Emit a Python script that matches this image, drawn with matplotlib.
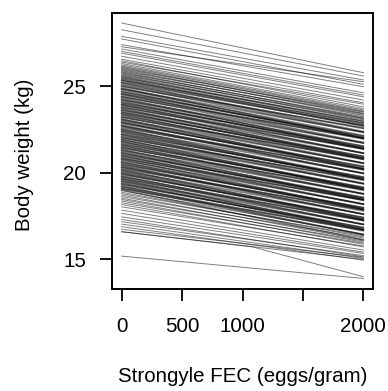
import matplotlib
matplotlib.use("Agg")
import matplotlib.pyplot as plt

plt.rcParams['font.family'] = ['Liberation Sans', 'DejaVu Sans']

# x positions (FEC, eggs/gram) where each fitted line is evaluated
fec_ends = [0, 2000]

# body weight (kg) of each line at FEC = 0 and at FEC = 2000
bw_at_0 = [
    28.64, 28.25, 27.87, 27.72, 27.39, 27.27, 27.14, 27.00, 26.90, 26.72,
    26.55, 26.46, 26.38, 26.30, 26.22,
    26.15, 26.08, 26.01, 25.95, 25.88, 25.82, 25.76, 25.70, 25.64, 25.58,
    25.53, 25.48, 25.43, 25.38, 25.33,
    25.30, 25.21, 25.18, 25.09, 25.02, 24.97, 24.88, 24.84, 24.80, 24.71,
    24.66, 24.58, 24.55, 24.49, 24.40, 24.37, 24.30, 24.22, 24.19, 24.11,
    24.05, 23.99, 23.93, 23.90, 23.82, 23.76, 23.71, 23.63, 23.60, 23.52,
    23.47, 23.41, 23.36, 23.30, 23.22, 23.19, 23.10, 23.06, 23.00, 22.93,
    22.88, 22.84, 22.75, 22.70, 22.66, 22.58, 22.51, 22.47, 22.40, 22.36,
    22.28, 22.21, 22.18, 22.10, 22.04, 21.99, 21.92, 21.88, 21.80, 21.77,
    21.69, 21.63, 21.58, 21.52, 21.45, 21.41, 21.33, 21.29, 21.22, 21.15,
    21.11, 21.04, 20.98, 20.94, 20.86, 20.81, 20.77, 20.70, 20.62, 20.59,
    20.51, 20.46, 20.40, 20.33, 20.30, 20.22, 20.17, 20.11, 20.05, 19.99,
    19.93, 19.89, 19.81, 19.76, 19.70, 19.63, 19.60, 19.52, 19.48, 19.41,
    19.35, 19.30, 19.22, 19.18, 19.11, 19.06, 19.00,
    18.95, 18.86, 18.78, 18.70, 18.61, 18.52, 18.44, 18.35, 18.25, 18.15,
    18.02, 17.83, 17.64, 17.44, 17.29, 17.16, 17.02, 16.87, 16.72, 16.58,
    15.17,
]
bw_at_2000 = [
    25.77, 25.58, 25.35, 25.10, 24.96, 25.25, 24.61, 24.48, 24.38, 24.19,
    24.03, 23.80, 23.95, 23.70, 23.62,
    23.55, 23.42, 23.50, 23.30, 23.38, 23.15, 23.22, 23.05, 23.12, 22.95,
    22.88, 22.98, 22.80, 22.72, 22.85,
    22.68, 22.73, 22.37, 22.54, 22.32, 22.59, 22.00, 22.33, 22.14, 21.97,
    22.04, 22.10, 21.74, 21.94, 21.70, 21.99, 21.42, 21.71, 21.53, 21.37,
    21.43, 21.51, 21.12, 21.35, 21.12, 21.38, 20.83, 21.12, 20.94, 20.78,
    20.85, 20.93, 20.55, 20.75, 20.52, 20.81, 20.22, 20.55, 20.34, 20.19,
    20.26, 20.36, 19.94, 20.15, 19.96, 20.20, 19.63, 19.96, 19.74, 19.62,
    19.66, 19.73, 19.37, 19.55, 19.34, 19.61, 19.04, 19.37, 19.14, 19.03,
    19.07, 19.15, 18.77, 18.97, 18.75, 19.03, 18.45, 18.78, 18.56, 18.41,
    18.49, 18.56, 18.17, 18.39, 18.16, 18.43, 17.89, 18.19, 17.96, 17.85,
    17.89, 17.98, 17.59, 17.78, 17.60, 17.84, 17.29, 17.60, 17.39, 17.25,
    17.31, 17.41, 17.00, 17.21, 17.00, 17.25, 16.72, 17.01, 16.82, 16.67,
    16.73, 16.82, 16.41, 16.63, 16.41, 16.68, 16.12,
    16.45, 16.28, 16.35, 16.10, 16.22, 15.98, 16.05, 15.85, 15.92, 15.70,
    15.75, 15.52, 15.40, 15.33, 15.13, 15.20, 15.04, 14.94, 15.10, 14.98,
    13.88,
]

# one line that bends part way along
bent_fec = [0, 1080, 2000]
bent_bw = [16.58, 15.71, 13.98]

x_ticks = [0, 500, 1000, 1500, 2000]
x_tick_labels = ['0', '500', '1000', '', '2000']
y_ticks = [15, 20, 25]

fig = plt.figure(figsize=(3.88, 3.91), dpi=100)
ax = fig.add_axes([112 / 388, 1 - 289 / 391, 261 / 388, 276 / 391])

for i, (a, b) in enumerate(zip(bw_at_0, bw_at_2000)):
    if 30 <= i < 137:      # the dense middle band
        alpha, lw = 0.5, 1.15
    elif 15 <= i < 30:     # thinning out towards the top
        alpha, lw = 0.5, 0.9
    else:
        alpha, lw = 0.5, 0.7
    ax.plot(fec_ends, [a, b], color='black', alpha=alpha, lw=lw)
ax.plot(bent_fec, bent_bw, color='black', alpha=0.5, lw=0.7)

ax.set_xlim(-80, 2080)
ax.set_ylim(13.27, 29.22)
ax.set_xticks(x_ticks)
ax.set_xticklabels(x_tick_labels)
ax.set_yticks(y_ticks)
ax.set_yticklabels([str(t) for t in y_ticks])

for s in ax.spines.values():
    s.set_linewidth(1.4)
ax.tick_params(axis='both', length=8.6, width=1.3, labelsize=14.8)
ax.tick_params(axis='x', pad=11.5)
ax.tick_params(axis='y', pad=10)

fig.text(242.5 / 388, 1 - 377 / 391, 'Strongyle FEC (eggs/gram)',
         ha='center', va='center', fontsize=14.8)
fig.text(25 / 388, 1 - 155 / 391, 'Body weight (kg)', rotation=90,
         ha='center', va='center', fontsize=14.8)

fig.savefig('out.png', dpi=100)
